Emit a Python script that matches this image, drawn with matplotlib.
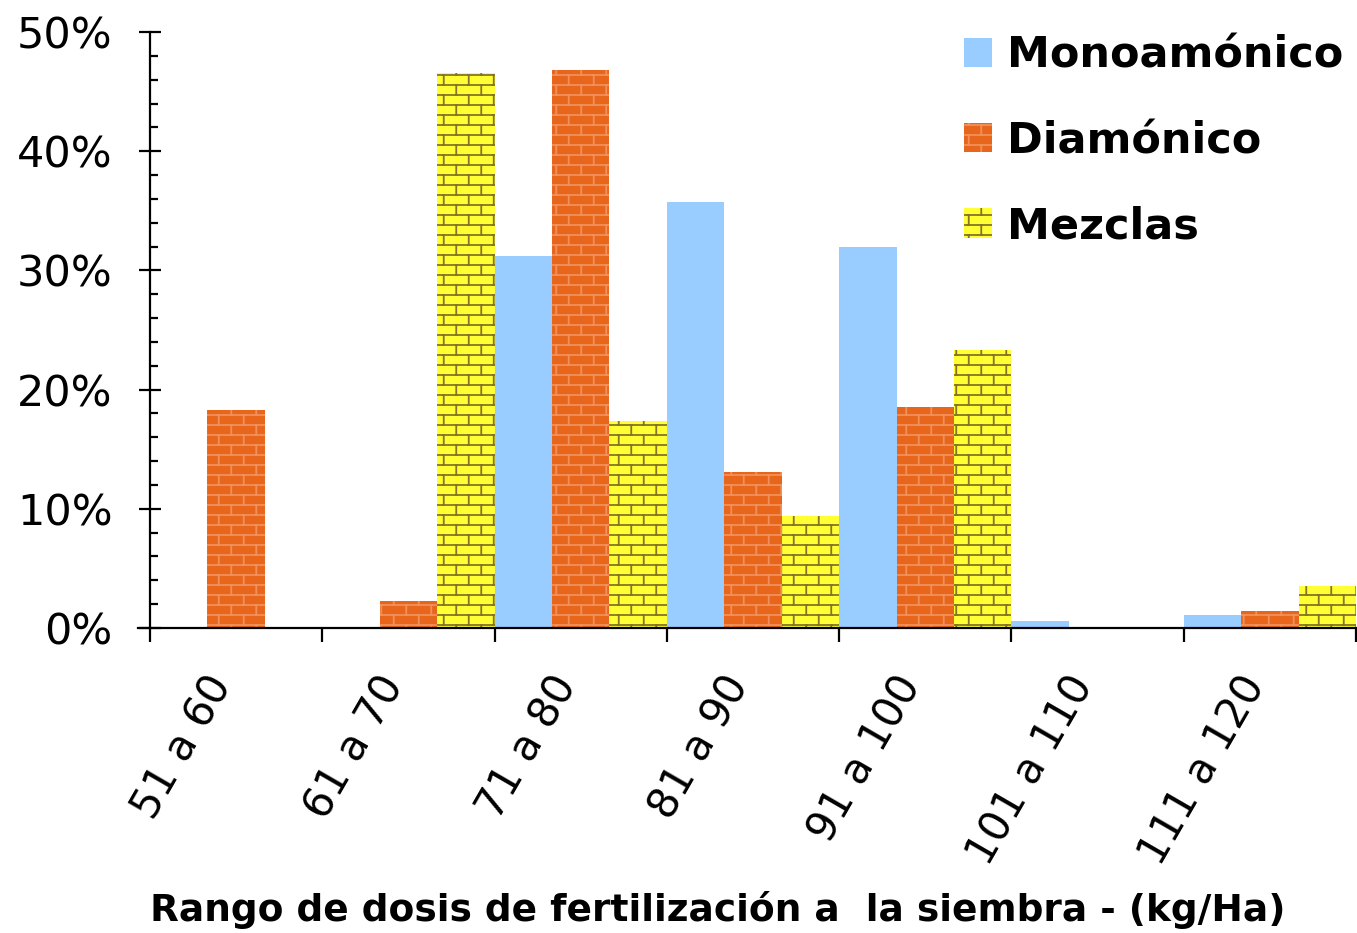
import warnings
import numpy as np
import matplotlib
matplotlib.use("Agg")
import matplotlib.pyplot as plt
import matplotlib.hatch as mhatch
from matplotlib.path import Path
from matplotlib.ticker import MultipleLocator, FuncFormatter
from matplotlib.transforms import ScaledTranslation

warnings.filterwarnings("ignore")

categories = ["51 a 60", "61 a 70", "71 a 80", "81 a 90", "91 a 100", "101 a 110", "111 a 120"]
monoamonico = [0.0, 0.0, 31.2, 35.7, 32.0, 0.6, 1.1]
diamonico = [18.3, 2.3, 46.8, 13.1, 18.5, 0.0, 1.4]
mezclas = [0.0, 46.6, 17.4, 9.4, 23.3, 0.0, 3.5]
series_names = ["Monoamónico", "Diamónico", "Mezclas"]
y_ticks = [0, 10, 20, 30, 40, 50]


class BrickHatch(mhatch.HatchPatternBase):
    def __init__(self, hatch, density):
        n = hatch.count('B')
        verts = []
        if n:
            rows, cols = 10, 4
            h = 1.0 / rows
            for r in range(rows):
                y = (r + 0.5) * h
                verts += [(0.0, y), (1.0, y)]
            for r in range(rows):
                off = 0.25 / cols if r % 2 == 0 else 0.75 / cols
                y0 = (r + 0.5) * h
                y1 = (r + 1.5) * h
                for c in range(cols):
                    x = c / cols + off
                    if y1 <= 1.0 + 1e-9:
                        verts += [(x, y0), (x, y1)]
                    else:
                        verts += [(x, y0), (x, 1.0)]
                        verts += [(x, 0.0), (x, y1 - 1.0)]
        self.verts = np.array(verts, dtype=float).reshape(-1, 2)
        self.num_vertices = len(self.verts)

    def set_vertices_and_codes(self, vertices, codes):
        vertices[:] = self.verts
        codes[0::2] = Path.MOVETO
        codes[1::2] = Path.LINETO


mhatch._hatch_types.append(BrickHatch)

plt.rcParams['font.family'] = ['DejaVu Sans']
plt.rcParams['hatch.linewidth'] = 1.3

fig = plt.figure(figsize=(13.57, 9.33), dpi=100)
ax = fig.add_axes([150 / 1357, 1 - 628 / 933, 1206 / 1357, 596 / 933])

x = np.arange(len(categories))
w = 1 / 3
ax.bar(x + w / 2, monoamonico, width=w, color='#99CCFF', linewidth=0,
       label=series_names[0])
ax.bar(x + 1.5 * w, diamonico, width=w, facecolor='#E8661C', edgecolor='#F0905A',
       hatch='B', linewidth=0, label=series_names[1])
ax.bar(x + 2.5 * w, mezclas, width=w, facecolor='#FFFF33', edgecolor='#857528',
       hatch='B', linewidth=0, label=series_names[2])

ax.set_xlim(0, len(categories))
ax.set_ylim(0, 50)

for s in ['top', 'right']:
    ax.spines[s].set_visible(False)
for s in ['left', 'bottom']:
    ax.spines[s].set_linewidth(1.6)
ax.spines['bottom'].set_bounds(-0.07, len(categories))

ax.set_yticks(y_ticks)
ax.yaxis.set_major_formatter(FuncFormatter(lambda v, p: f"{v:.0f}%"))
ax.yaxis.set_minor_locator(MultipleLocator(2))
ax.tick_params(axis='y', which='major', direction='inout', length=16, width=1.6,
               labelsize=31, pad=19)
ax.tick_params(axis='y', which='minor', direction='in', length=6, width=1.6)

ax.set_xticks(np.arange(len(categories) + 1))
ax.set_xticklabels([])
ax.tick_params(axis='x', which='major', direction='out', length=10, width=1.6)

lbl_tr = ax.get_xaxis_transform() + ScaledTranslation(-0.14, -0.51, fig.dpi_scale_trans)
for xi, cat in zip(x, categories):
    ax.text(xi + 0.5, 0, cat, transform=lbl_tr, rotation=60, ha='right', va='center',
            rotation_mode='anchor', fontsize=30)

fig.text(718 / 1357, 1 - 910 / 933,
         "Rango de dosis de fertilización a  la siembra - (kg/Ha)",
         fontsize=27, fontweight='bold', ha='center', va='center')

leg = ax.legend(loc='upper left', bbox_to_anchor=(964 / 1357, 1 - 35 / 933),
                bbox_transform=fig.transFigure, frameon=False,
                prop={'weight': 'bold', 'size': 31},
                handlelength=0.66, handleheight=0.66, handletextpad=0.35,
                labelspacing=1.0, borderpad=0, borderaxespad=0)

fig.savefig("out.png", dpi=100)
